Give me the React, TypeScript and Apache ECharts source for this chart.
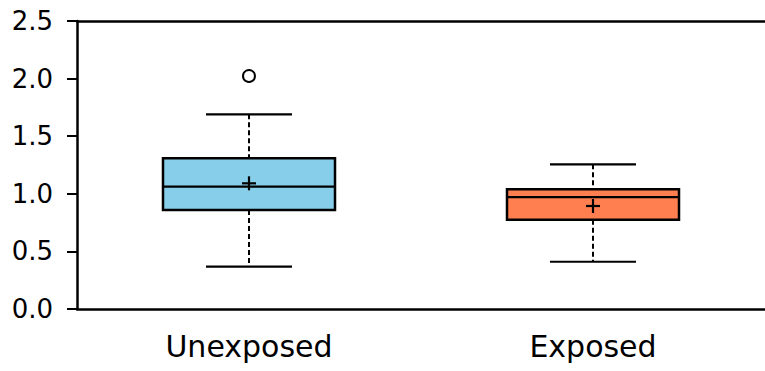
import React, { useEffect, useRef } from "react";
import * as echarts from "echarts";

const categories = ["Unexposed", "Exposed"];
const lowerWhisker = [0.367, 0.41];
const q1 = [0.859, 0.775];
const median = [1.062, 0.972];
const q3 = [1.308, 1.039];
const upperWhisker = [1.69, 1.256];
const means = [1.091, 0.894];
const outliers: [number, number][] = [[0, 2.023]];
const boxColors = ["#87CEEB", "#FF7F50"];

const FONT = "DejaVu Sans";

export default function App() {
  const ref = useRef<HTMLDivElement>(null);
  useEffect(() => {
    if (!ref.current) return;
    const chart = echarts.init(ref.current, null, { renderer: "svg" });
    const boxData = categories.map((_, i) => [
      i,
      lowerWhisker[i],
      q1[i],
      median[i],
      q3[i],
      upperWhisker[i],
      means[i],
    ]);
    chart.setOption({
      animation: false,
      grid: { left: 77, top: 21, bottom: 62, right: -6, containLabel: false },
      xAxis: [
        {
          type: "category",
          data: categories,
          axisLine: { lineStyle: { color: "#000", width: 2.5 } },
          axisTick: { alignWithLabel: true, length: 9, lineStyle: { color: "#000", width: 2 } },
          axisLabel: { color: "#000", fontSize: 30, fontFamily: FONT, margin: 22 },
        },
        {
          type: "category",
          position: "top",
          data: categories,
          axisLine: { lineStyle: { color: "#000", width: 2.5 } },
          axisTick: { show: false },
          axisLabel: { show: false },
        },
      ],
      yAxis: {
        type: "value",
        min: 0,
        max: 2.5,
        interval: 0.5,
        axisLine: { show: true, lineStyle: { color: "#000", width: 2.5 } },
        axisTick: { show: true, length: 10, lineStyle: { color: "#000", width: 2 } },
        splitLine: { show: false },
        axisLabel: {
          color: "#000",
          fontSize: 26,
          fontFamily: FONT,
          margin: 24,
          formatter: (v: number) => v.toFixed(1),
        },
      },
      series: [
        {
          type: "custom",
          data: boxData,
          renderItem: (params: any, api: any) => {
            const i = api.value(0);
            const band = api.size([1, 0])[0];
            const cx = api.coord([i, 0])[0];
            const y = (v: number) => api.coord([i, v])[1];
            const half = band * 0.25;
            const cap = band * 0.125;
            const yLo = y(api.value(1));
            const yQ1 = y(api.value(2));
            const yMed = y(api.value(3));
            const yQ3 = y(api.value(4));
            const yHi = y(api.value(5));
            const yMean = y(api.value(6));
            const solid = { stroke: "#000", lineWidth: 2.2 };
            const dashed = { stroke: "#000", lineWidth: 2, lineDash: [5, 3] };
            return {
              type: "group",
              children: [
                { type: "line", shape: { x1: cx, y1: yHi, x2: cx, y2: yQ3 }, style: dashed },
                { type: "line", shape: { x1: cx, y1: yQ1, x2: cx, y2: yLo }, style: dashed },
                { type: "line", shape: { x1: cx - cap, y1: yHi, x2: cx + cap, y2: yHi }, style: solid },
                { type: "line", shape: { x1: cx - cap, y1: yLo, x2: cx + cap, y2: yLo }, style: solid },
                {
                  type: "rect",
                  shape: { x: cx - half, y: yQ3, width: half * 2, height: yQ1 - yQ3 },
                  style: { fill: boxColors[params.dataIndex], stroke: "#000", lineWidth: 2.5 },
                },
                { type: "line", shape: { x1: cx - half, y1: yMed, x2: cx + half, y2: yMed }, style: solid },
                { type: "line", shape: { x1: cx - 7, y1: yMean, x2: cx + 7, y2: yMean }, style: solid },
                { type: "line", shape: { x1: cx, y1: yMean - 7, x2: cx, y2: yMean + 7 }, style: solid },
              ],
            };
          },
          encode: { x: 0, y: [1, 2, 3, 4, 5, 6] },
          z: 2,
        },
        {
          type: "scatter",
          data: outliers,
          symbol: "circle",
          symbolSize: 12,
          itemStyle: { color: "#fff", borderColor: "#000", borderWidth: 2, opacity: 1 },
          z: 3,
        },
      ],
    });
    return () => chart.dispose();
  }, []);
  return (
    <div
      ref={ref}
      style={{ position: "fixed", left: 0, top: 0, width: 765, height: 371, background: "#fff" }}
    />
  );
}
